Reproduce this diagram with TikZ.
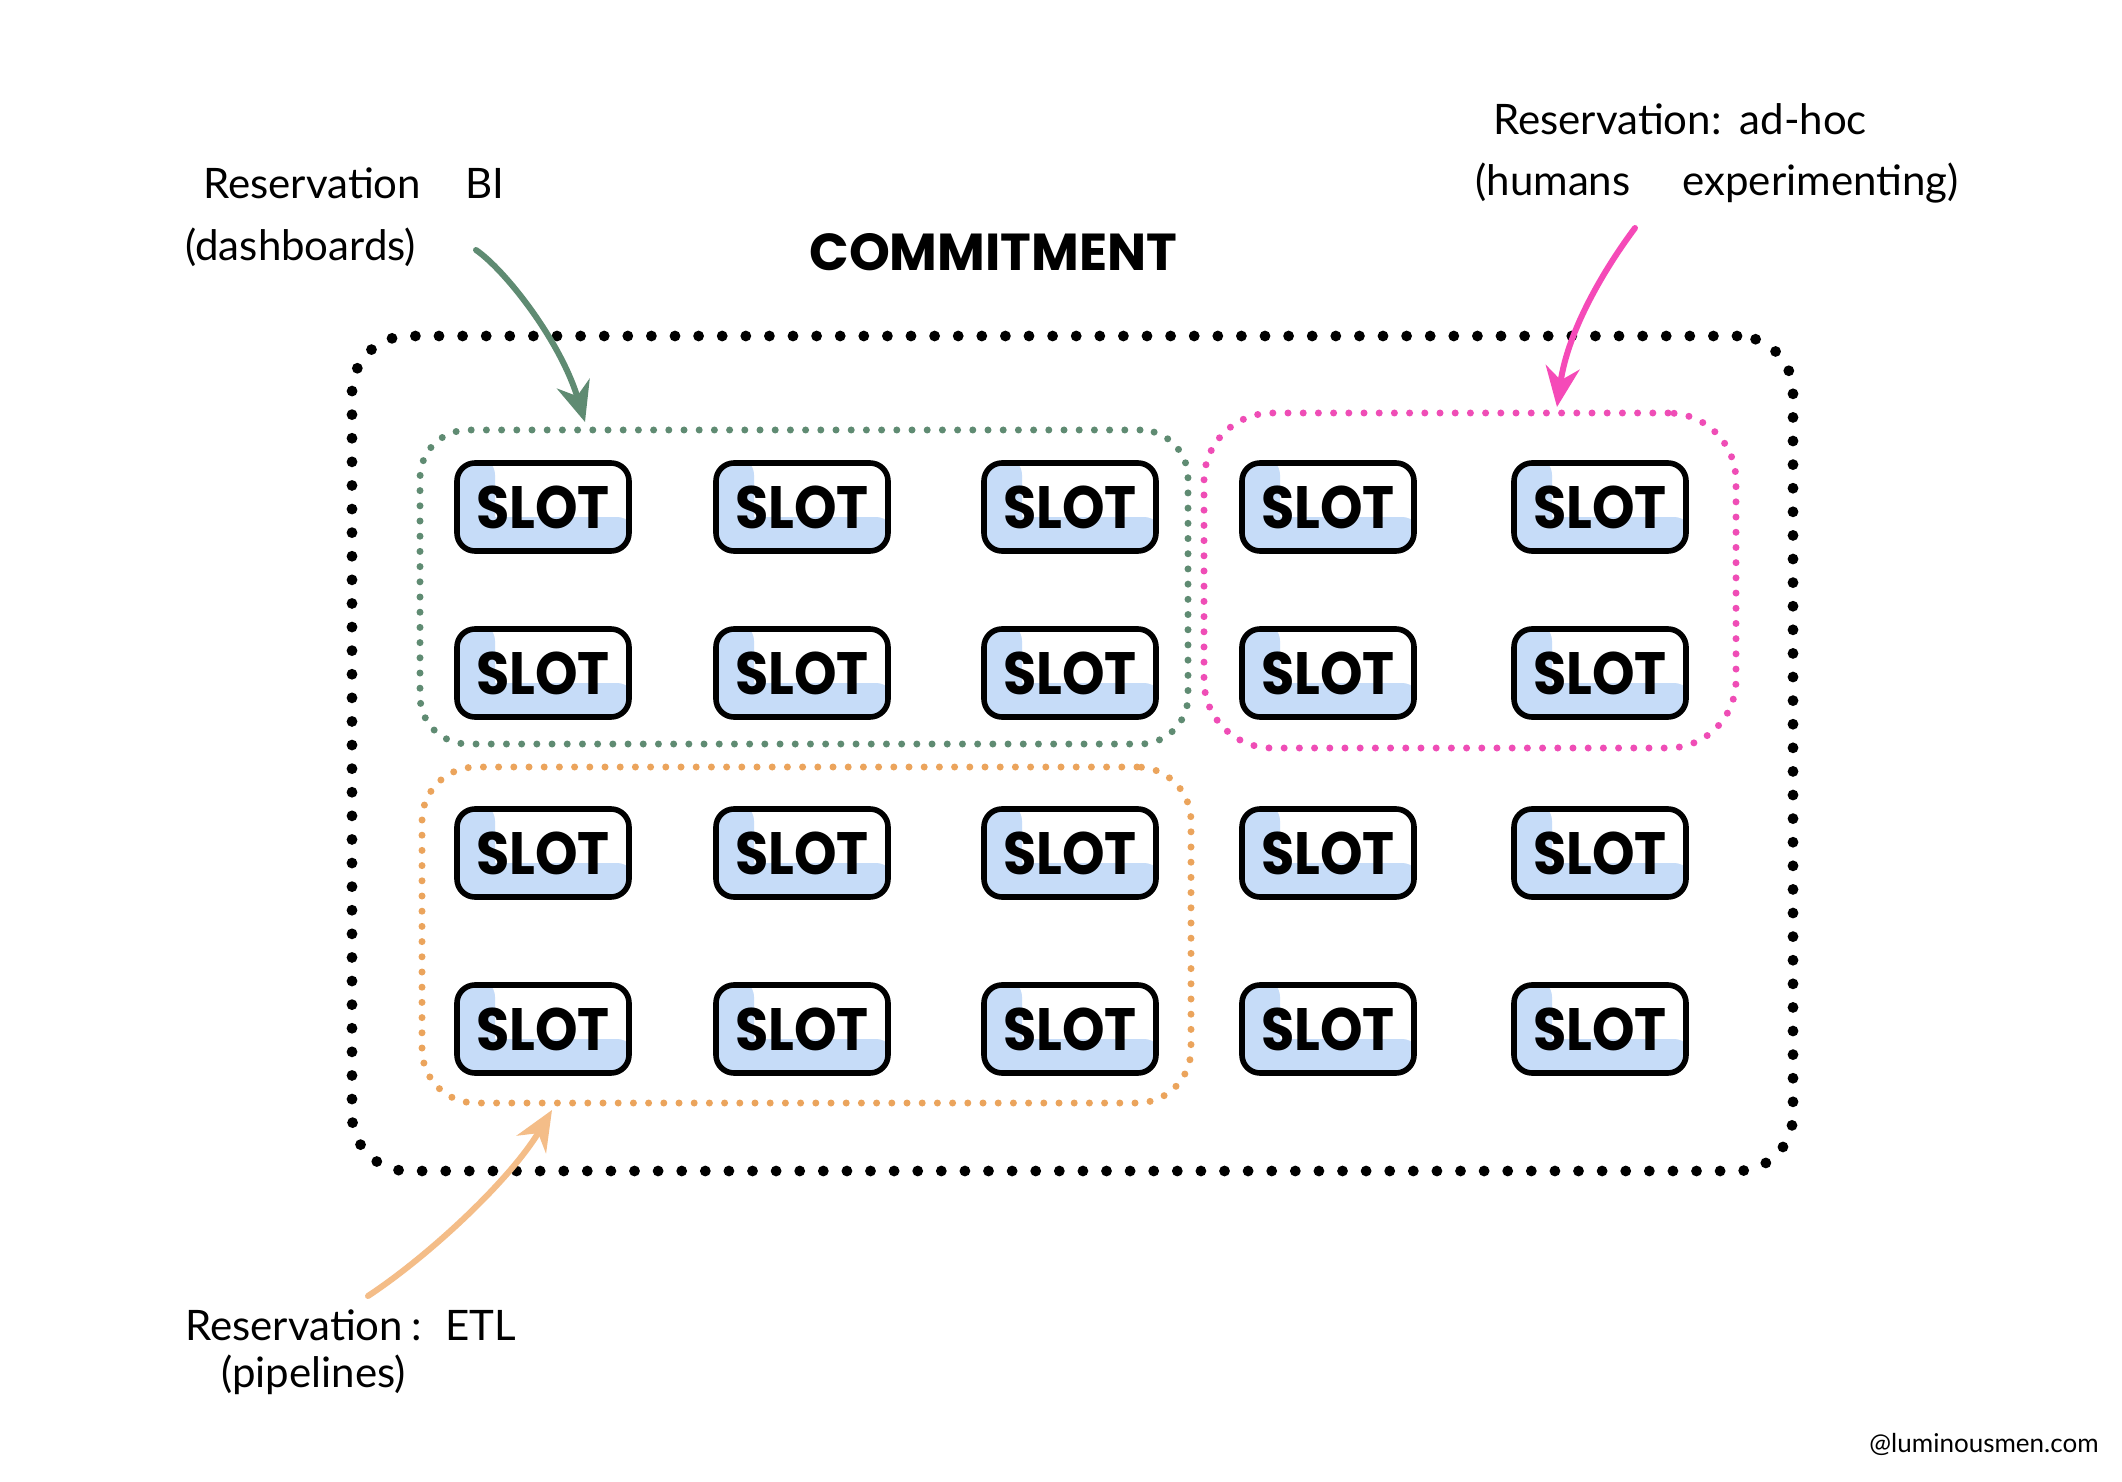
\documentclass[tikz,border=0pt]{standalone}
\usepackage{fontspec}
\usepackage{graphicx}
\setmainfont{Lato}
\newfontfamily\slotfont{Poppins}
\usetikzlibrary{arrows.meta}

\definecolor{slotblue}{HTML}{C6DCF8}
\definecolor{grp}{HTML}{5F8B72}
\definecolor{pinkc}{HTML}{EF4DB6}
\definecolor{pinkarrow}{HTML}{F54AB8}
\definecolor{orangec}{HTML}{EBA45C}
\definecolor{orangearrow}{HTML}{F4BD88}

\newcommand\slottext{\scalebox{1.04}[1.15]{SLOT}}

\begin{document}
\begin{tikzpicture}[x=0.5pt,y=-0.5pt,
  slot/.style={draw=black, line width=2.8pt, rounded corners=9pt, fill=white,
    minimum width=86pt, minimum height=44pt, inner sep=0pt,
    font=\slotfont\bfseries\fontsize{26}{26}\selectfont,
    path picture={
      \fill[slotblue] ([xshift=-3pt,yshift=-3pt]path picture bounding box.south west)
        rectangle ([xshift=19pt,yshift=3pt]path picture bounding box.north west);
      \fill[slotblue] ([xshift=-3pt,yshift=-3pt]path picture bounding box.south west)
        rectangle ([xshift=3pt,yshift=17pt]path picture bounding box.south east);
    }},
  dotbox/.style={draw, line cap=round, inner sep=0pt},
  bigdots/.style={dotbox, draw=black, line width=5.4pt, dash pattern=on 0pt off 11.8pt},
  smalldots/.style={dotbox, line width=3.5pt, dash pattern=on 0pt off 7.6pt},
  lbl/.style={inner sep=0pt, anchor=base west, font=\fontsize{21}{25}\selectfont},
  titlelbl/.style={inner sep=0pt, anchor=base west, font=\slotfont\bfseries\fontsize{26}{30}\selectfont},
  wmark/.style={inner sep=0pt, font=\fontsize{13}{15}\selectfont},
  arr/.style={line width=3pt, line cap=round, -{Stealth[length=20pt,width=17pt]}}
]
\path[use as bounding box, fill=white] (0,0) rectangle (2122,1482);

% outer commitment box
\node[bigdots, rounded corners=28pt, minimum width=720.5pt, minimum height=417.5pt] (commit) at (1072.5,753.5) {};

% reservation boxes
\node[smalldots, draw=grp, rounded corners=24pt, minimum width=384pt, minimum height=157pt] (bibox) at (804,587) {};
\node[smalldots, draw=pinkc, rounded corners=34pt, minimum width=266pt, minimum height=167.5pt] (adbox) at (1470,580.5) {};
\node[smalldots, draw=orangec, rounded corners=27pt, minimum width=384.5pt, minimum height=168pt] (etlbox) at (806.5,935) {};

% slots
\foreach \c/\x in {1/543,2/802,3/1070,4/1328,5/1600}
  \foreach \r/\y in {1/507,2/673,3/853,4/1029}
    \node[slot] (s\r\c) at (\x,\y) {\slottext};

% title
\node[titlelbl] (commitlbl) at (809,271) {COMMITMENT};

% labels
\node[lbl] (biA) at (203,199) {Reservation\hspace{22pt}BI};
\node[lbl] (biB) at (185,261) {(dashboards)};
\node[lbl] (adA) at (1493,135) {Reservation:\hspace{9pt}ad-hoc};
\node[lbl] (adB) at (1475,196) {(humans\hspace{26pt}experimenting)};
\node[lbl] (etlA) at (185,1340) {Reservation\hspace{4pt}:\hspace{12pt}ETL};
\node[lbl] (etlB) at (221,1387) {(pipelines)};
\node[wmark] (wm) at (1984,1444) {@luminousmen.com};

% arrow ends
\coordinate (biS) at (476,250);
\coordinate (biT) at (585,422);
\coordinate (adS) at (1635,228);
\coordinate (adT) at (1557,407);
\coordinate (etlS) at (368,1296);
\coordinate (etlT) at (552,1110);

\draw[arr, grp] (biS) .. controls (505,270) and (560,340) .. (biT);
\draw[arr, pinkarrow] (adS) .. controls (1605,268) and (1568,330) .. (adT);
\draw[arr, orangearrow] (etlS) .. controls (430,1255) and (510,1180) .. (etlT);
\end{tikzpicture}
\end{document}
